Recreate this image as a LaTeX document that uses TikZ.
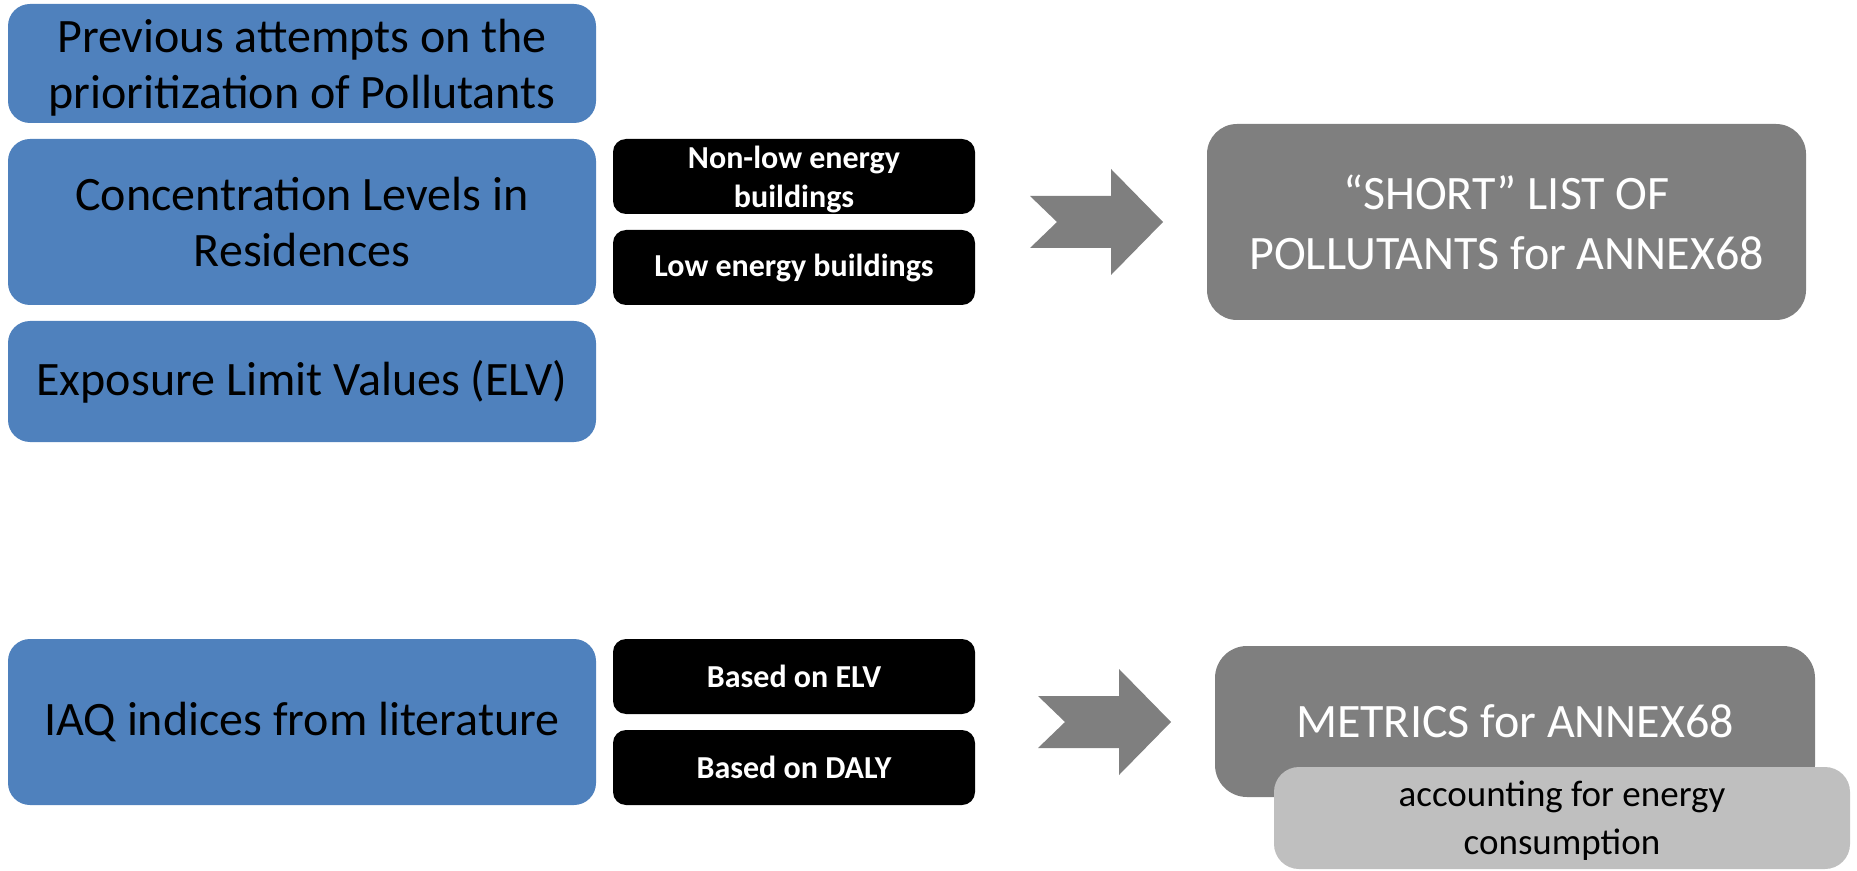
\documentclass[tikz,border=0pt]{standalone}
\usepackage{fontspec}
\setmainfont{Carlito}
\definecolor{boxblue}{HTML}{4F81BD}
\definecolor{midgray}{HTML}{7F7F7F}
\definecolor{palegray}{HTML}{BFBFBF}
\tikzset{
  bluebox/.style={fill=boxblue, rounded corners=11pt, minimum width=294pt, align=center,
    inner sep=0pt, text=black, font=\fontsize{24}{28}\selectfont},
  blackbox/.style={fill=black, rounded corners=6.5pt, minimum width=181pt, minimum height=37.5pt,
    align=center, inner sep=0pt, text=white, font=\bfseries\fontsize{16}{19.5}\selectfont},
  resultbox/.style={fill=midgray, text=white, align=center, inner sep=0pt,
    font=\fontsize{24}{30}\selectfont},
  notebox/.style={fill=palegray, text=black, align=center, inner sep=0pt,
    rounded corners=12.5pt, font=\fontsize{18.5}{24}\selectfont},
  chevron/.style={fill=midgray}
}
\begin{document}
\begin{tikzpicture}[x=0.5pt,y=-0.5pt]
\useasboundingbox (0,0) rectangle (1857,871);
% left blue boxes
\node[bluebox, minimum height=59.5pt, text depth=-1.1pt] (prev) at (302,63.5) {Previous attempts on the\\prioritization of Pollutants};
\node[bluebox, minimum height=83pt] (conc) at (302,222) {Concentration Levels in\\Residences};
\node[bluebox, minimum height=60.5pt] (elv) at (302,381.5) {Exposure Limit Values (ELV)};
\node[bluebox, minimum height=83pt] (iaq) at (302,722) {IAQ indices from literature};
% black boxes
\node[blackbox, text depth=-2.5pt] (nonlow) at (794,176.5) {Non-low energy\\buildings};
\node[blackbox] (low) at (794,267.5) {Low energy buildings};
\node[blackbox] (belv) at (794,676.5) {Based on ELV};
\node[blackbox] (bdaly) at (794,767.5) {Based on DALY};
% chevron arrows
\fill[chevron] (1030,196) -- (1111,196) -- (1111,169) -- (1163,222) -- (1111,275) -- (1111,248) -- (1030,248) -- (1057,222) -- cycle;
\fill[chevron] (1038,696) -- (1119,696) -- (1119,669) -- (1171,722) -- (1119,775) -- (1119,748) -- (1038,748) -- (1065,722) -- cycle;
% result boxes
\node[resultbox, rounded corners=15pt, minimum width=299.5pt, minimum height=98pt] (short) at (1506.5,222) {“SHORT” LIST OF\\POLLUTANTS for ANNEX68};
\node[resultbox, rounded corners=16pt, minimum width=300pt, minimum height=75.5pt] (metrics) at (1515,721.5) {METRICS for ANNEX68};
\node[notebox, minimum width=288pt, minimum height=51pt, text depth=-6.3pt] (energy) at (1562,818) {accounting for energy\\consumption};
\end{tikzpicture}
\end{document}
